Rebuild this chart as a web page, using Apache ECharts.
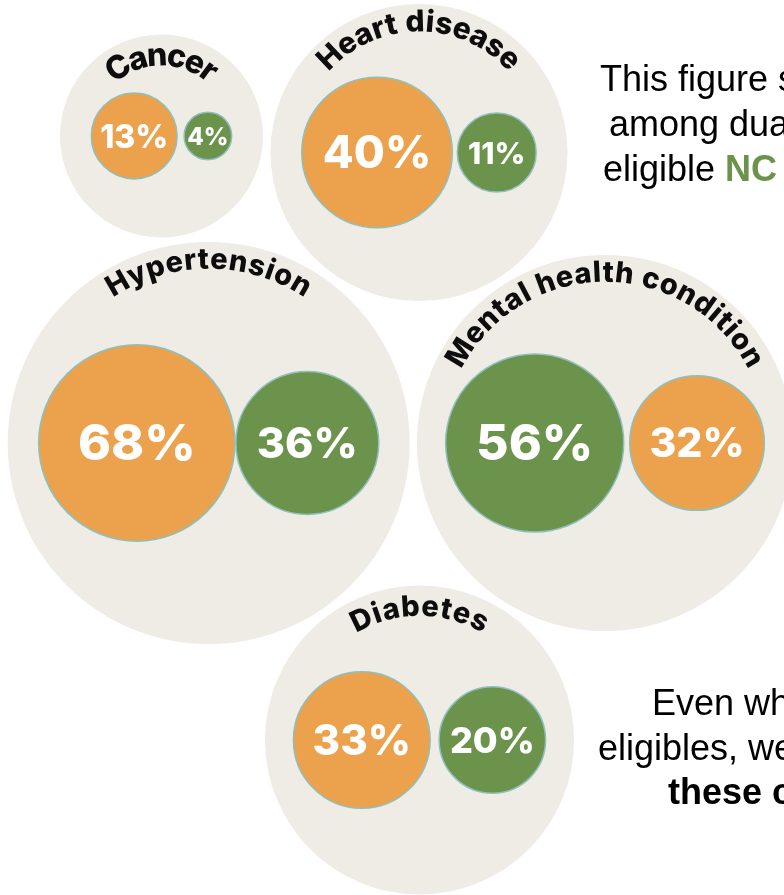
<!DOCTYPE html>
<html><head><meta charset="utf-8">
<script src="https://cdn.jsdelivr.net/npm/echarts@6/dist/echarts.min.js"></script>
<style>html,body{margin:0;padding:0;background:#ffffff;overflow:hidden;}#chart{width:784px;height:895px;}</style>
</head><body><div id="chart"></div>
<script>
// ---------- data ----------
const categories = ['Cancer', 'Heart disease', 'Hypertension', 'Mental health condition', 'Diabetes'];
const dualEligibles = [13, 40, 68, 32, 33];      // orange
const nonDualEligibles = [4, 11, 36, 56, 20];    // green
const introLines = ['This figure shows', 'among dual', 'eligible '];
const introHighlight = 'NC Medicaid';
const outroLines = ['Even when', 'eligibles, we', 'these conditions'];

// ---------- layout / style ----------
const groupCenters = [[161.5, 136], [419, 152.5], [208.7, 443], [605, 443], [419.5, 740]];
const groupRadii = [101.5, 148.5, 201, 188, 154.5];
const pairGaps = [7, 5, 1, 6, 9];
const arcRadius = [80, 130, 183, 170, 133];
const arcHalfDeg = [41, 48, 33.2, 62.7, 30.3];
const arcFont = [32, 30, 29, 29, 29];
const bubbleScale = 11.9;
const COLORS = { bg: '#EFEBE5', orange: '#ECA14C', green: '#6C934B', stroke: '#8DC0BD', text: '#0d0d0d' };
const LABEL_FONT = 'Inter';

const radiusOf = v => bubbleScale * Math.sqrt(v);

const bubbles = [];
categories.forEach((name, i) => {
  const items = [
    { v: dualEligibles[i], color: COLORS.orange, series: 'Dual eligibles' },
    { v: nonDualEligibles[i], color: COLORS.green, series: 'Non-dual' }
  ].sort((a, b) => b.v - a.v);
  const r1 = radiusOf(items[0].v), r2 = radiusOf(items[1].v);
  const W = 2 * r1 + pairGaps[i] + 2 * r2;
  const left = groupCenters[i][0] - W / 2;
  const xs = [left + r1, left + 2 * r1 + pairGaps[i] + r2];
  items.forEach((it, k) => {
    const r = radiusOf(it.v);
    bubbles.push({
      name: name + ' – ' + it.series,
      value: [xs[k], groupCenters[i][1], it.v],
      itemStyle: { color: it.color },
      label: { fontSize: Math.round(Math.min(50, 0.4 * r + 14.5)) }
    });
  });
});

const measureCtx = document.createElement('canvas').getContext('2d');

function renderArcLabel(params, api) {
  const i = params.dataIndex;
  const c = api.coord([groupCenters[i][0], groupCenters[i][1]]);
  const rm = api.size([arcRadius[i], 0])[0];
  const fs = arcFont[i];
  measureCtx.font = '800 ' + fs + 'px ' + LABEL_FONT;
  const chars = categories[i].split('');
  const widths = chars.map(ch => measureCtx.measureText(ch).width);
  const L = 2 * arcHalfDeg[i] * Math.PI / 180 * rm;
  const sumW = widths.reduce((a, b) => a + b, 0);
  const ls = (L - sumW) / (chars.length - 1);
  let s = -L / 2;
  const children = [];
  chars.forEach((ch, k) => {
    const mid = s + widths[k] / 2;
    const th = mid / rm;
    if (ch !== ' ') {
      children.push({
        type: 'text',
        x: c[0] + rm * Math.sin(th),
        y: c[1] - rm * Math.cos(th),
        rotation: -th,
        style: { text: ch, fontSize: fs, fontFamily: LABEL_FONT, fontWeight: 800, fill: COLORS.text, align: 'center', verticalAlign: 'middle' }
      });
    }
    s += widths[k] + ls;
  });
  return { type: 'group', children };
}

const chart = echarts.init(document.getElementById('chart'), null, { renderer: 'canvas' });
const textFont = '"Liberation Sans", Arial, sans-serif';
const TEXT_SIZE = 36;
const introY = [81, 126, 171];
const introX = [600, 609, 603];
const outroY = [705, 750, 794];
const outroX = [652, 598, 668];

const graphics = [];
introLines.forEach((t, k) => {
  if (k === 2) {
    graphics.push({ type: 'text', x: introX[k], y: introY[k], style: {
      text: '{a|' + t + '}{b|' + introHighlight + '}', verticalAlign: 'middle',
      rich: { a: { fontSize: TEXT_SIZE, fontFamily: textFont, fill: '#000' }, b: { fontSize: TEXT_SIZE, fontFamily: textFont, fontWeight: 'bold', fill: COLORS.green } }
    }});
  } else {
    graphics.push({ type: 'text', x: introX[k], y: introY[k], style: { text: t, fontSize: TEXT_SIZE, fontFamily: textFont, fill: '#000', verticalAlign: 'middle' } });
  }
});
outroLines.forEach((t, k) => {
  graphics.push({ type: 'text', x: outroX[k], y: outroY[k], style: { text: t, fontSize: TEXT_SIZE, fontFamily: textFont, fontWeight: k === 2 ? 'bold' : 'normal', fill: '#000', verticalAlign: 'middle' } });
});

chart.setOption({
  animation: false,
  backgroundColor: '#ffffff',
  grid: { left: 0, right: 0, top: 0, bottom: 0 },
  xAxis: { type: 'value', min: 0, max: 784, show: false },
  yAxis: { type: 'value', min: 0, max: 895, inverse: true, show: false },
  graphic: graphics,
  series: [
    {
      type: 'scatter', silent: true, z: 1,
      symbolSize: (val, p) => 2 * groupRadii[p.dataIndex],
      itemStyle: { color: COLORS.bg, opacity: 1 },
      data: categories.map((n, i) => ({ name: n, value: groupCenters[i] }))
    },
    {
      type: 'scatter', silent: true, z: 2,
      symbolSize: val => 2 * radiusOf(val[2]),
      itemStyle: { borderColor: COLORS.stroke, borderWidth: 1.5, opacity: 1 },
      label: { show: true, position: 'inside', color: '#ffffff', fontFamily: LABEL_FONT, fontWeight: 800, offset: [0, 2],
        formatter: p => p.value[2] + '%' },
      data: bubbles
    },
    {
      type: 'custom', silent: true, z: 3,
      renderItem: renderArcLabel,
      data: categories.map((n, i) => [groupCenters[i][0], groupCenters[i][1], i])
    }
  ]
});
</script>
</body></html>
